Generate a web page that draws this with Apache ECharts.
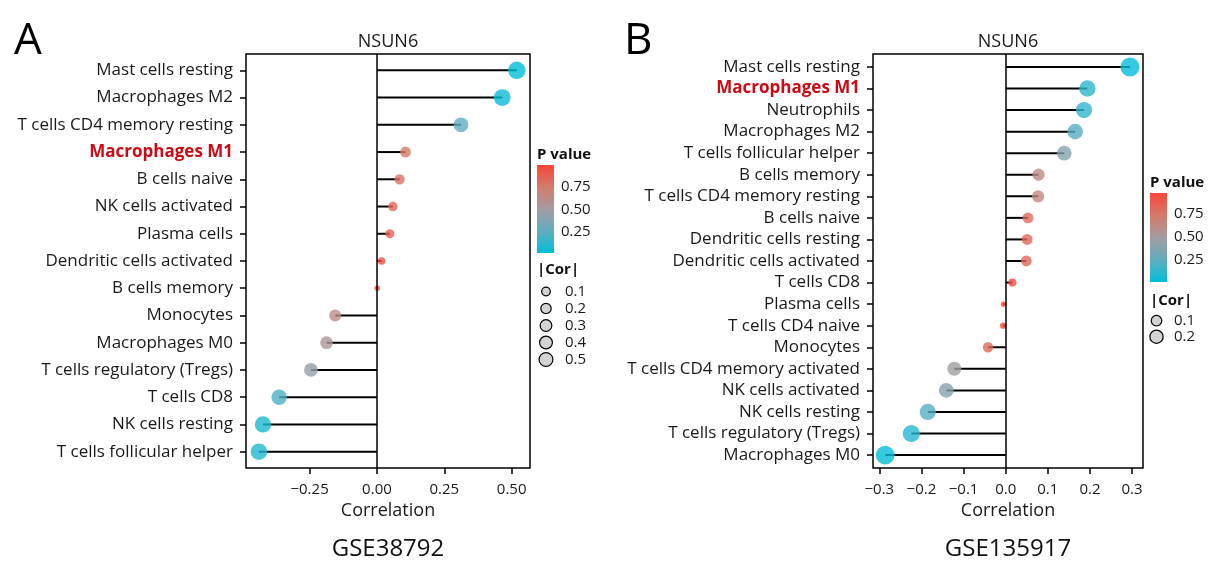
<!DOCTYPE html>
<html><head><meta charset="utf-8">
<script src="https://cdn.jsdelivr.net/npm/echarts@6/dist/echarts.min.js"></script>
<style>html,body{margin:0;padding:0;background:#fff}#c{width:1224px;height:575px}</style>
</head><body><div id="c"></div>
<script>
// ---- Panel A data (GSE38792) ----
const catsA = ['Mast cells resting','Macrophages M2','T cells CD4 memory resting','Macrophages M1','B cells naive','NK cells activated','Plasma cells','Dendritic cells activated','B cells memory','Monocytes','Macrophages M0','T cells regulatory (Tregs)','T cells CD8','NK cells resting','T cells follicular helper'];
const corA = [0.519,0.465,0.312,0.106,0.084,0.059,0.048,0.017,0.001,-0.155,-0.187,-0.245,-0.363,-0.423,-0.438];
const pA   = [0.01,0.03,0.25,0.75,0.80,0.85,0.88,0.95,0.99,0.62,0.55,0.45,0.20,0.08,0.09];
// ---- Panel B data (GSE135917) ----
const catsB = ['Mast cells resting','Macrophages M1','Neutrophils','Macrophages M2','T cells follicular helper','B cells memory','T cells CD4 memory resting','B cells naive','Dendritic cells resting','Dendritic cells activated','T cells CD8','Plasma cells','T cells CD4 naive','Monocytes','T cells CD4 memory activated','NK cells activated','NK cells resting','T cells regulatory (Tregs)','Macrophages M0'];
const corB = [0.295,0.194,0.186,0.165,0.139,0.078,0.077,0.053,0.051,0.049,0.016,-0.005,-0.006,-0.042,-0.122,-0.141,-0.185,-0.224,-0.286];
const pB   = [0.01,0.12,0.13,0.22,0.38,0.62,0.63,0.80,0.81,0.82,0.95,0.97,0.97,0.82,0.48,0.38,0.22,0.10,0.02];
// ---- axes / legends ----
const xTicksA = [-0.25,0,0.25,0.5];
const xTicksB = [-0.3,-0.2,-0.1,0,0.1,0.2,0.3];
const xRangeA = [-0.486,0.568];
const xRangeB = [-0.315,0.326];
const pTicks = [0.25,0.5,0.75];
const pRangeA = [0.008,1.0];
const pRangeB = [0.007,0.97];
const sizeKeysA = [0.1,0.2,0.3,0.4,0.5];
const sizeKeysB = [0.1,0.2];
const highlight = 'Macrophages M1';

const FF = 'Open Sans';
const pColors = ['#00BED8','#62ACC0','#A39CA0','#D47A6C','#F8453A'];

function makeSize(cors, dmin, dmax){
  const a = cors.map(Math.abs);
  const lo = Math.min(...a), hi = Math.max(...a);
  return v => dmin + (dmax-dmin)*Math.sqrt(Math.max(0,(Math.abs(v)-lo)/(hi-lo)));
}
const sizeA = makeSize(corA, 5.5, 17.5);
const sizeB = makeSize(corB, 5.5, 19);

const chart = echarts.init(document.getElementById('c'));
// panel boxes; category bands padded like ggplot (0.6 band each end)
const boxA = {left:246, top:54, width:284, height:414};
const boxB = {left:873, top:54, width:270, height:414};
function innerGrid(box, n){
  const s = box.height/(n - 1 + 1.2);
  return {left:box.left, width:box.width, top:box.top + 0.1*s, height:n*s};
}
const gridA = innerGrid(boxA, catsA.length);
const gridB = innerGrid(boxB, catsB.length);

function fmtX(d){ return v => (v < -1e-9 ? '\u2212' : '') + Math.abs(v).toFixed(d); }

function mainX(idx, range, ticks, d, grid, box){
  return {type:'value', gridIndex:idx, min:range[0], max:range[1],
    offset:(box.top+box.height)-(grid.top+grid.height),
    axisLine:{show:false, onZero:false},
    axisTick:{show:true, length:6, customValues:ticks, lineStyle:{color:'#000', width:1.5}},
    axisLabel:{customValues:ticks, formatter:fmtX(d), fontFamily:FF, fontSize:15, color:'#1a1a1a', margin:14},
    splitLine:{show:false},
    name:'Correlation', nameLocation:'middle', nameGap:30,
    nameTextStyle:{fontFamily:FF, fontSize:18, color:'#1a1a1a'}};
}
function mainY(idx, cats){
  return {type:'category', gridIndex:idx, data:cats, inverse:true,
    axisLine:{show:false, onZero:false},
    axisTick:{show:true, alignWithLabel:true, interval:0, length:6, lineStyle:{color:'#000', width:1.5}},
    axisLabel:{interval:0, fontFamily:FF, fontSize:17, color:'#1a1a1a', margin:13,
      formatter: v => v === highlight ? '{hl|' + v + '}' : v,
      rich:{hl:{fontFamily:FF, fontSize:17, fontWeight:'bold', color:'#CC0A14'}}},
    splitLine:{show:false}};
}
function cbGradient(){
  const n = pColors.length;
  return new echarts.graphic.LinearGradient(0,0,0,1,
    pColors.slice().reverse().map((c,i)=>({offset:i/(n-1), color:c})));
}
function cbAxis(gi, range, pos, labels){
  return {type:'value', gridIndex:gi, min:range[0], max:range[1], position:pos,
    axisLine:{show:false, onZero:false}, splitLine:{show:false},
    axisTick:{show:true, inside:true, length:4, customValues:pTicks, lineStyle:{color:'#fff', width:1}},
    axisLabel:labels ? {customValues:pTicks, formatter:v=>v.toFixed(2), fontFamily:FF, fontSize:15, color:'#1a1a1a', margin:7} : {show:false}};
}
function keyAxis(gi, keys, margin){
  return {type:'category', gridIndex:gi, data:keys.map(String), inverse:true, position:'right',
    axisLine:{show:false, onZero:false}, axisTick:{show:false},
    axisLabel:{interval:0, fontFamily:FF, fontSize:15, color:'#1a1a1a', margin:margin}};
}
const zeroLine = {silent:true, symbol:'none', label:{show:false}, lineStyle:{color:'#000', width:1.5, type:'solid'}, data:[{xAxis:0}]};

const option = {
  animation:false,
  backgroundColor:'#fff',
  grid:[
    gridA,
    gridB,
    {left:537, top:165, width:17, height:88},
    {left:1150, top:193, width:17, height:89},
    {left:540, top:283, width:12, height:85},
    {left:1150, top:312.7, width:13, height:32},
    Object.assign({show:true, borderColor:'#000', borderWidth:1.5, backgroundColor:'transparent'}, boxA),
    Object.assign({show:true, borderColor:'#000', borderWidth:1.5, backgroundColor:'transparent'}, boxB)
  ],
  xAxis:[
    mainX(0, xRangeA, xTicksA, 2, gridA, boxA),
    mainX(1, xRangeB, xTicksB, 1, gridB, boxB),
    {type:'category', gridIndex:2, data:['p'], show:false},
    {type:'category', gridIndex:3, data:['p'], show:false},
    {type:'value', gridIndex:4, min:-1, max:1, show:false},
    {type:'value', gridIndex:5, min:-1, max:1, show:false},
    {type:'value', gridIndex:6, min:xRangeA[0], max:xRangeA[1], show:false},
    {type:'value', gridIndex:7, min:xRangeB[0], max:xRangeB[1], show:false}
  ],
  yAxis:[
    mainY(0, catsA),
    mainY(1, catsB),
    cbAxis(2, pRangeA, 'right', true),
    cbAxis(2, pRangeA, 'left', false),
    cbAxis(3, pRangeB, 'right', true),
    cbAxis(3, pRangeB, 'left', false),
    keyAxis(4, sizeKeysA, 13),
    keyAxis(5, sizeKeysB, 11),
    {type:'value', gridIndex:6, min:0, max:1, show:false},
    {type:'value', gridIndex:7, min:0, max:1, show:false}
  ],
  visualMap:[
    {type:'continuous', show:false, seriesIndex:1, dimension:2, min:pRangeA[0], max:pRangeA[1], inRange:{color:pColors}},
    {type:'continuous', show:false, seriesIndex:3, dimension:2, min:pRangeB[0], max:pRangeB[1], inRange:{color:pColors}}
  ],
  series:[
    {type:'bar', xAxisIndex:0, yAxisIndex:0, data:corA, barWidth:2, itemStyle:{color:'#000'}, silent:true, z:2},
    {type:'scatter', xAxisIndex:0, yAxisIndex:0, z:3,
      data:catsA.map((c,i)=>[corA[i], i, pA[i]]),
      symbolSize: v => sizeA(v[0])},
    {type:'bar', xAxisIndex:1, yAxisIndex:1, data:corB, barWidth:2, itemStyle:{color:'#000'}, silent:true, z:2},
    {type:'scatter', xAxisIndex:1, yAxisIndex:1, z:3,
      data:catsB.map((c,i)=>[corB[i], i, pB[i]]),
      symbolSize: v => sizeB(v[0])},
    {type:'bar', xAxisIndex:2, yAxisIndex:2, data:[pRangeA[1]], barWidth:'100%', itemStyle:{color:cbGradient()}, silent:true},
    {type:'bar', xAxisIndex:3, yAxisIndex:4, data:[pRangeB[1]], barWidth:'100%', itemStyle:{color:cbGradient()}, silent:true},
    {type:'scatter', xAxisIndex:4, yAxisIndex:6, silent:true,
      data:sizeKeysA.map((v,i)=>[0, i, v]), symbolSize: v => sizeA(v[2])*0.8,
      itemStyle:{color:'#D3D3D3', borderColor:'#000', borderWidth:1.2, opacity:1}},
    {type:'scatter', xAxisIndex:5, yAxisIndex:7, silent:true,
      data:sizeKeysB.map((v,i)=>[0, i, v]), symbolSize: v => sizeB(v[2])*0.8,
      itemStyle:{color:'#D3D3D3', borderColor:'#000', borderWidth:1.2, opacity:1}},
    {type:'scatter', xAxisIndex:6, yAxisIndex:8, silent:true, z:1, data:[[0,0.5]], symbolSize:0, markLine:zeroLine},
    {type:'scatter', xAxisIndex:7, yAxisIndex:9, silent:true, z:1, data:[[0,0.5]], symbolSize:0, markLine:zeroLine}
  ],
  graphic:[
    {type:'text', x:14, y:41, style:{text:'A', font:'44px "Open Sans"', fill:'#000', align:'left', verticalAlign:'middle'}},
    {type:'text', x:624, y:41, style:{text:'B', font:'44px "Open Sans"', fill:'#000', align:'left', verticalAlign:'middle'}},
    {type:'text', x:388, y:42, style:{text:'NSUN6', font:'18px "Open Sans"', fill:'#1a1a1a', align:'center', verticalAlign:'middle'}},
    {type:'text', x:1008, y:42, style:{text:'NSUN6', font:'18px "Open Sans"', fill:'#1a1a1a', align:'center', verticalAlign:'middle'}},
    {type:'text', x:388, y:549, style:{text:'GSE38792', font:'24px "Open Sans"', fill:'#111', align:'center', verticalAlign:'middle'}},
    {type:'text', x:1008, y:549, style:{text:'GSE135917', font:'24px "Open Sans"', fill:'#111', align:'center', verticalAlign:'middle'}},
    {type:'text', x:537, y:155, style:{text:'P value', font:'bold 15px "Open Sans"', fill:'#111', align:'left', verticalAlign:'middle'}},
    {type:'text', x:1150, y:183, style:{text:'P value', font:'bold 15px "Open Sans"', fill:'#111', align:'left', verticalAlign:'middle'}},
    {type:'text', x:537, y:270, style:{text:'|Cor|', font:'bold 15px "Open Sans"', fill:'#111', align:'left', verticalAlign:'middle'}},
    {type:'text', x:1150, y:301, style:{text:'|Cor|', font:'bold 15px "Open Sans"', fill:'#111', align:'left', verticalAlign:'middle'}}
  ]
};
chart.setOption(option);
</script></body></html>
